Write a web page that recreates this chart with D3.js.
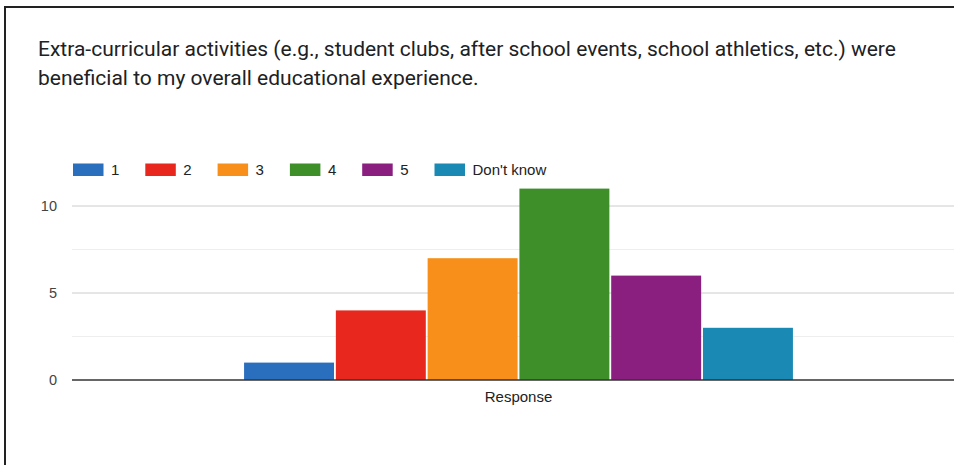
<!DOCTYPE html>
<html>
<head>
<meta charset="utf-8">
<script src="https://cdn.jsdelivr.net/npm/d3@7"></script>
<style>
  html, body { margin: 0; padding: 0; background: #fff; overflow: hidden; }
  svg { display: block; }
</style>
</head>
<body>
<svg id="chart" width="954" height="465"></svg>
<script>
const titleLines = [
  "Extra-curricular activities (e.g., student clubs, after school events, school athletics, etc.) were",
  "beneficial to my overall educational experience."
];
const categories = ["Response"];
const series = ["1", "2", "3", "4", "5", "Don't know"];
const values = [1, 4, 7, 11, 6, 3];
const colors = ["#2a6fbe", "#e8281e", "#f78f1a", "#3e8e29", "#8a1f80", "#1a89b4"];
const majorTicks = [0, 5, 10];
const minorTicks = [2.5, 7.5];

const svg = d3.select("#chart");
const W = 954, H = 465;
const axisFont = "Arial, 'Liberation Sans', sans-serif";

// frame
svg.append("line").attr("x1", 5).attr("x2", 5).attr("y1", 6).attr("y2", H)
  .attr("stroke", "#222").attr("stroke-width", 2);
svg.append("line").attr("x1", 4).attr("x2", W).attr("y1", 7).attr("y2", 7)
  .attr("stroke", "#222").attr("stroke-width", 2);

// title
svg.append("g").selectAll("text").data(titleLines).join("text")
  .attr("x", 38).attr("y", (d, i) => 56 + i * 29)
  .attr("font-family", "Roboto, sans-serif").attr("font-size", 21)
  .attr("fill", "#202124").text(d => d);

const plotLeft = 72, plotRight = 965;
const y = d3.scaleLinear().domain([0, 12.5]).range([380, 162.5]);
const x0 = d3.scaleBand().domain(categories).range([plotLeft, plotRight]).paddingOuter(0.3135);
const x1 = d3.scaleBand().domain(series).range([0, x0.bandwidth()]).paddingInner(0.02).paddingOuter(0);

// gridlines
svg.append("g").selectAll("line").data(minorTicks).join("line")
  .attr("x1", plotLeft).attr("x2", W).attr("y1", d => y(d)).attr("y2", d => y(d))
  .attr("stroke", "#eeeeee").attr("stroke-width", 1);
svg.append("g").selectAll("line").data(majorTicks.filter(d => d !== 0)).join("line")
  .attr("x1", plotLeft).attr("x2", W).attr("y1", d => y(d)).attr("y2", d => y(d))
  .attr("stroke", "#cccccc").attr("stroke-width", 1);

// y labels
svg.append("g").selectAll("text").data(majorTicks).join("text")
  .attr("x", 57).attr("y", d => y(d)).attr("dy", "0.35em")
  .attr("text-anchor", "end")
  .attr("font-family", axisFont).attr("font-size", 14.5)
  .attr("fill", "#444").text(d => d);

// bars
const grp = svg.append("g").selectAll("g").data(categories).join("g")
  .attr("transform", d => `translate(${x0(d)},0)`);
grp.selectAll("rect").data(series.map((s, i) => ({ s, v: values[i], c: colors[i] }))).join("rect")
  .attr("x", d => x1(d.s)).attr("width", x1.bandwidth())
  .attr("y", d => y(d.v)).attr("height", d => y(0) - y(d.v))
  .attr("fill", d => d.c);

// baseline
svg.append("line").attr("x1", plotLeft).attr("x2", W).attr("y1", y(0)).attr("y2", y(0))
  .attr("stroke", "#333").attr("stroke-width", 1.5);

// category label
svg.append("g").selectAll("text").data(categories).join("text")
  .attr("x", d => x0(d) + x0.bandwidth() / 2).attr("y", 402)
  .attr("text-anchor", "middle")
  .attr("font-family", axisFont).attr("font-size", 15)
  .attr("fill", "#222").text(d => d);

// legend
const leg = svg.append("g").selectAll("g").data(series).join("g")
  .attr("transform", (d, i) => `translate(${73 + i * 72.3},163.5)`);
leg.append("rect").attr("width", 30.5).attr("height", 12.5).attr("fill", (d, i) => colors[i]);
leg.append("text").attr("x", 38).attr("y", 6.5).attr("dy", "0.35em")
  .attr("font-family", axisFont).attr("font-size", 15)
  .attr("fill", "#222").text(d => d);
</script>
</body>
</html>
